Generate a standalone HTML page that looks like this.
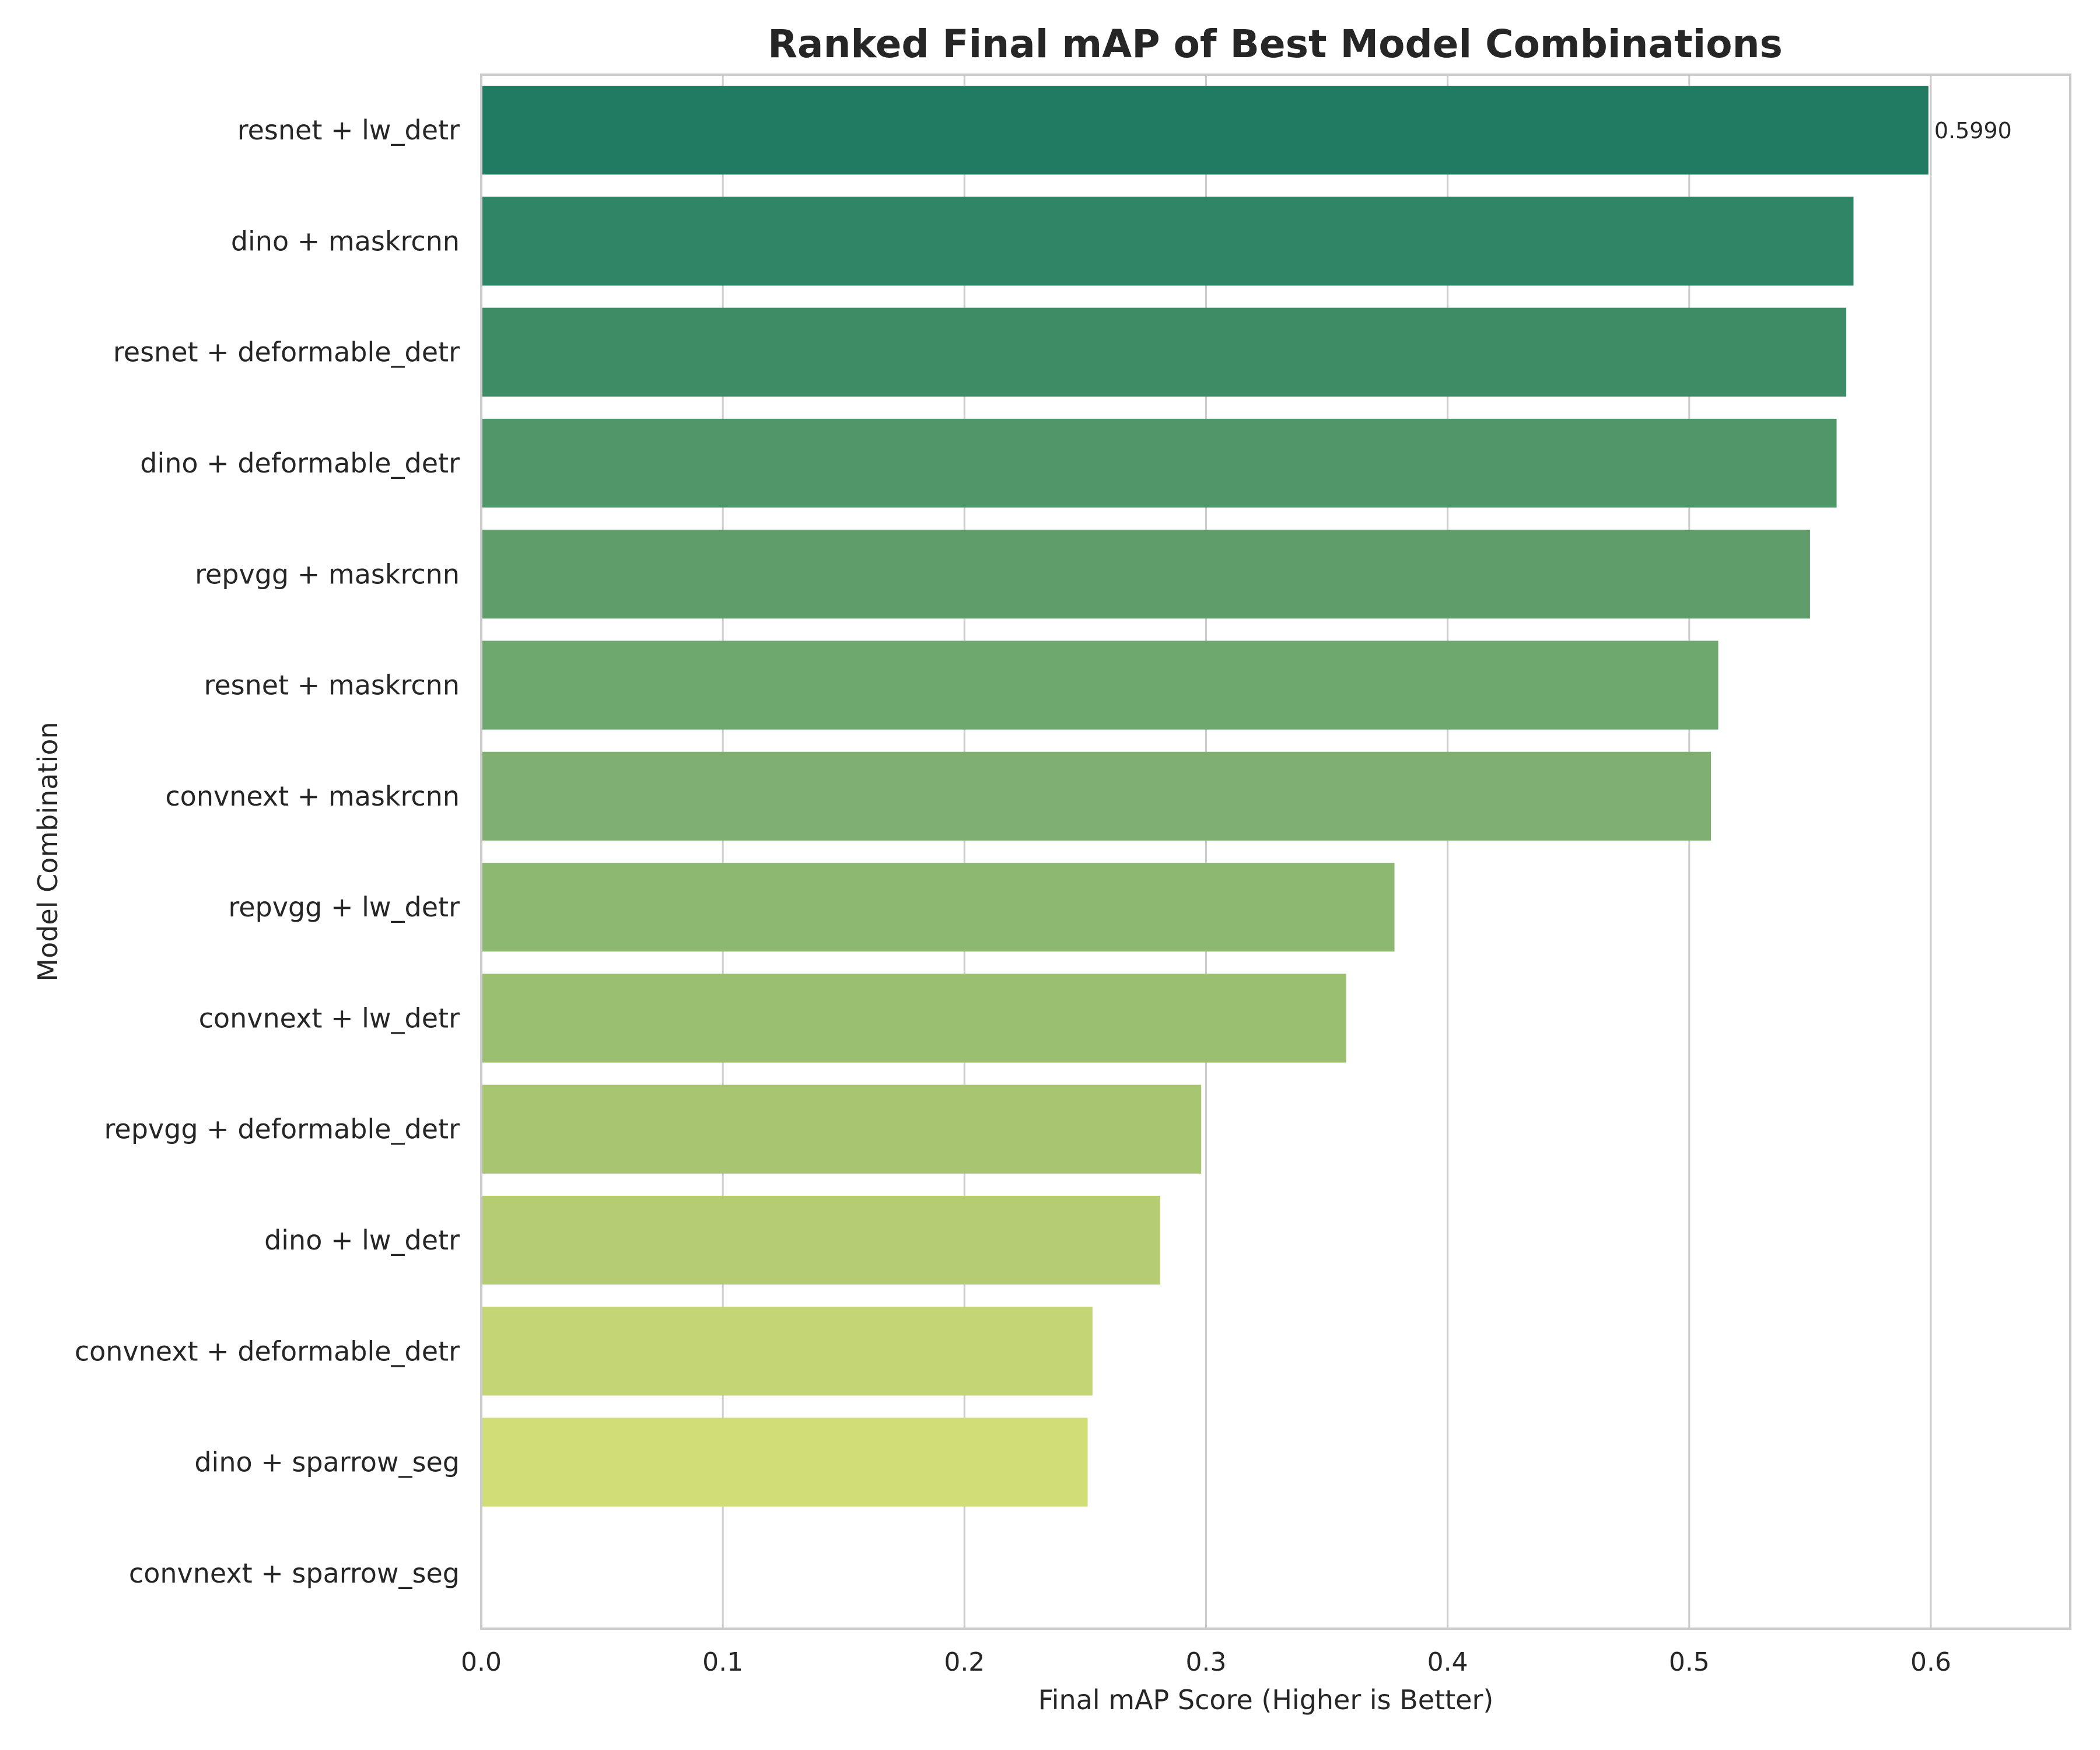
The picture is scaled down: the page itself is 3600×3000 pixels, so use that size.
<!DOCTYPE html>
<html><head><meta charset="utf-8"><style>
html,body{margin:0;padding:0;background:#fff;}
svg{display:block;font-family:"DejaVu Sans","Liberation Sans",sans-serif;}
</style></head><body>
<svg id="chart" width="3600" height="3000" viewBox="0 0 3600 3000">
<text x="2186" y="98" text-anchor="middle" font-size="66" font-weight="bold" fill="#262626">Ranked Final mAP of Best Model Combinations</text>
<g id="grid"></g><g id="bars"></g><g id="labels"></g>
<text x="2170" y="2930" text-anchor="middle" font-size="46" fill="#262626">Final mAP Score (Higher is Better)</text>
<text transform="translate(98,1460) rotate(-90)" text-anchor="middle" font-size="46" fill="#262626">Model Combination</text>
</svg>
<script>
const categories=["resnet + lw_detr","dino + maskrcnn","resnet + deformable_detr","dino + deformable_detr","repvgg + maskrcnn","resnet + maskrcnn","convnext + maskrcnn","repvgg + lw_detr","convnext + lw_detr","repvgg + deformable_detr","dino + lw_detr","convnext + deformable_detr","dino + sparrow_seg","convnext + sparrow_seg"];
const values=[0.599,0.568,0.565,0.561,0.550,0.512,0.509,0.378,0.358,0.298,0.281,0.253,0.251,null];
const xTicks=[0,0.1,0.2,0.3,0.4,0.5,0.6];
const xTickLabels=["0.0","0.1","0.2","0.3","0.4","0.5","0.6"];
const topLabel="0.5990";
const colors=["#217b63","#2f8566","#3e8c66","#4f9668","#5f9e6a","#6fa86e","#7fb071","#8db872","#9bbf71","#a8c671","#b5cc73","#c3d575","#d1dd76","#d8e27a"];
const NS="http://www.w3.org/2000/svg";
const L=825,R=3549,T=128,B=2792,xMax=0.6*(R-L)/(3310-L);
const x=v=>L+v/xMax*(R-L);
const band=(B-T)/categories.length;
const y=i=>T+i*band;
function mk(tag,attrs,parent){const e=document.createElementNS(NS,tag);for(const k in attrs)e.setAttribute(k,attrs[k]);parent.appendChild(e);return e;}
const grid=document.getElementById('grid'),bars=document.getElementById('bars'),labels=document.getElementById('labels');
xTicks.forEach((t,i)=>{
  const g=mk('line',{x1:x(t),x2:x(t),y1:T,y2:B,stroke:'#cccccc','stroke-width':3},grid);
  
  
  const tx=mk('text',{x:x(t),y:2864,'text-anchor':'middle','font-size':44,fill:'#262626'},labels);
  tx.textContent=xTickLabels[i];
  
  
});
categories.forEach((c,i)=>{
  const cy=y(i)+band/2;
  if(values[i]!=null){
    const r=mk('rect',{x:x(0),y:cy-band*0.4,width:x(values[i])-x(0),height:band*0.8,fill:colors[i]},bars);
    
    
  }
  const t=mk('text',{x:788,y:cy+16,'text-anchor':'end','font-size':46,fill:'#262626'},labels);
  t.textContent=c;
  
  
});
const vl=mk('text',{x:x(values[0])+10,y:y(0)+band/2+14,'font-size':38,fill:'#262626'},labels);
vl.textContent=topLabel;


const fr=mk('rect',{x:L,y:T,width:R-L,height:B-T,fill:'none',stroke:'#cccccc','stroke-width':4},labels);


</script>
</body></html>
